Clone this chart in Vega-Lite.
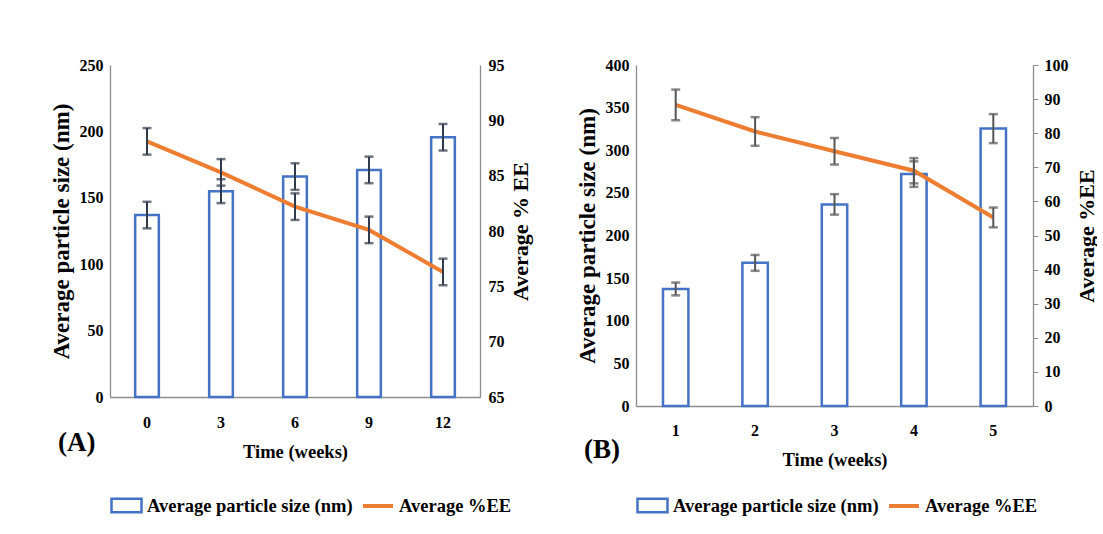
{
  "$schema": "https://vega.github.io/schema/vega-lite/v6.json",
  "padding": {"left": 50, "top": 57, "right": 0, "bottom": 0},
  "background": "white",
  "config": {
    "font": "Liberation Serif",
    "view": {"stroke": null},
    "axis": {"labelFont": "Liberation Serif", "labelFontWeight": "bold", "labelFontSize": 16, "labelColor": "#000", "titleFont": "Liberation Serif", "titleFontWeight": "bold", "titleColor": "#000", "grid": false, "domainColor": "#8c8c8c", "domainWidth": 1.3, "ticks": false},
    "legend": {"labelFont": "Liberation Serif", "labelFontWeight": "bold", "labelFontSize": 18.5, "labelColor": "#000", "labelLimit": 0, "orient": "bottom", "direction": "horizontal"}
  },
  "spacing": 45,
  "resolve": {"scale": {"color": "independent", "stroke": "independent"}, "legend": {"color": "independent", "stroke": "independent"}},
  "hconcat": [
    {
      "width": 370, "height": 332,
      "title": {"text": "(A)", "orient": "bottom", "anchor": "start", "frame": "group", "fontSize": 27, "fontWeight": "bold", "font": "Liberation Serif", "dx": -52, "dy": -92},
      "data": {"values": [
        {"week": 0, "size": 137, "sizeErr": 10, "ee": 88.1, "eeErr": 1.2},
        {"week": 3, "size": 155, "sizeErr": 9, "ee": 85.3, "eeErr": 1.2},
        {"week": 6, "size": 166, "sizeErr": 10, "ee": 82.2, "eeErr": 1.2},
        {"week": 9, "size": 171, "sizeErr": 10, "ee": 80.1, "eeErr": 1.2},
        {"week": 12, "size": 195.6, "sizeErr": 10, "ee": 76.3, "eeErr": 1.2}
      ]},
      "encoding": {"x": {"field": "week", "type": "ordinal", "scale": {"paddingInner": 0.68, "paddingOuter": 0.34}, "axis": {"title": "Time (weeks)", "titleFontSize": 18.5, "labelAngle": 0, "labelPadding": 17, "titlePadding": 12}}},
      "layer": [
        {"mark": {"type": "bar", "fill": "white", "strokeWidth": 2.5},
         "encoding": {
           "y": {"field": "size", "type": "quantitative", "scale": {"domain": [0, 250]}, "axis": {"title": "Average particle size (nm)", "titleFontSize": 23, "values": [0, 50, 100, 150, 200, 250], "labelPadding": 7, "titlePadding": 6}},
           "stroke": {"datum": "Average particle size (nm)", "scale": {"range": ["#4472C4"]}, "legend": {"title": null, "offset": 28, "symbolType": "M-1,-0.45H1V0.45H-1Z", "symbolSize": 900, "symbolStrokeWidth": 2.5, "symbolFillColor": "white"}}
         }},
        {"mark": {"type": "line", "strokeWidth": 4},
         "encoding": {
           "y": {"field": "ee", "type": "quantitative", "scale": {"domain": [65, 95]}, "axis": {"orient": "right", "title": "Average  % EE", "titleAngle": 270, "titleBaseline": "top", "titleFontSize": 22, "values": [65, 70, 75, 80, 85, 90, 95], "labelPadding": 8, "titlePadding": 6}},
           "color": {"datum": "Average %EE", "scale": {"range": ["#ED7D31"]}, "legend": {"title": null, "offset": 28, "symbolType": "stroke", "symbolSize": 900, "symbolStrokeWidth": 4}}
         }},
        {"mark": {"type": "errorbar", "ticks": {"size": 9, "thickness": 2.5, "color": "#2f3b4c"}, "rule": {"strokeWidth": 2, "color": "#2f3b4c"}},
         "encoding": {"y": {"field": "size", "type": "quantitative", "scale": {"domain": [0, 250]}, "axis": null}, "yError": {"field": "sizeErr"}}},
        {"mark": {"type": "errorbar", "ticks": {"size": 9, "thickness": 2.5, "color": "#2f3b4c"}, "rule": {"strokeWidth": 2, "color": "#2f3b4c"}},
         "encoding": {"y": {"field": "ee", "type": "quantitative", "scale": {"domain": [65, 95]}, "axis": null}, "yError": {"field": "eeErr"}}}
      ],
      "resolve": {"scale": {"y": "independent"}}
    },
    {
      "width": 397, "height": 341,
      "title": {"text": "(B)", "orient": "bottom", "anchor": "start", "frame": "group", "fontSize": 27, "fontWeight": "bold", "font": "Liberation Serif", "dx": -52, "dy": -85},
      "data": {"values": [
        {"week": 1, "size": 137.3, "sizeErr": 7.5, "ee": 88.3, "eeErr": 4.5},
        {"week": 2, "size": 167.9, "sizeErr": 9.3, "ee": 80.5, "eeErr": 4.2},
        {"week": 3, "size": 236.5, "sizeErr": 12, "ee": 74.7, "eeErr": 3.9},
        {"week": 4, "size": 272, "sizeErr": 15, "ee": 69, "eeErr": 3.7},
        {"week": 5, "size": 325.4, "sizeErr": 17, "ee": 55.3, "eeErr": 2.9}
      ]},
      "encoding": {"x": {"field": "week", "type": "ordinal", "scale": {"paddingInner": 0.68, "paddingOuter": 0.34}, "axis": {"title": "Time (weeks)", "titleFontSize": 18.5, "labelAngle": 0, "labelPadding": 16, "titlePadding": 12}}},
      "layer": [
        {"mark": {"type": "bar", "fill": "white", "strokeWidth": 2.5},
         "encoding": {
           "y": {"field": "size", "type": "quantitative", "scale": {"domain": [0, 400]}, "axis": {"title": "Average particle size (nm)", "titleFontSize": 23, "values": [0, 50, 100, 150, 200, 250, 300, 350, 400], "labelPadding": 7, "titlePadding": 6}},
           "stroke": {"datum": "Average particle size (nm)", "scale": {"range": ["#4472C4"]}, "legend": {"title": null, "offset": 20, "symbolType": "M-1,-0.45H1V0.45H-1Z", "symbolSize": 900, "symbolStrokeWidth": 2.5, "symbolFillColor": "white"}}
         }},
        {"mark": {"type": "line", "strokeWidth": 4},
         "encoding": {
           "y": {"field": "ee", "type": "quantitative", "scale": {"domain": [0, 100]}, "axis": {"orient": "right", "title": "Average %EE", "titleAngle": 270, "titleBaseline": "top", "titleFontSize": 22, "values": [0, 10, 20, 30, 40, 50, 60, 70, 80, 90, 100], "ticks": true, "tickSize": 5, "tickColor": "#8c8c8c", "labelPadding": 6, "titlePadding": 8}},
           "color": {"datum": "Average %EE", "scale": {"range": ["#ED7D31"]}, "legend": {"title": null, "offset": 20, "symbolType": "stroke", "symbolSize": 900, "symbolStrokeWidth": 4}}
         }},
        {"mark": {"type": "errorbar", "ticks": {"size": 9, "thickness": 2.5, "color": "#555555"}, "rule": {"strokeWidth": 2, "color": "#555555"}},
         "encoding": {"y": {"field": "size", "type": "quantitative", "scale": {"domain": [0, 400]}, "axis": null}, "yError": {"field": "sizeErr"}}},
        {"mark": {"type": "errorbar", "ticks": {"size": 9, "thickness": 2.5, "color": "#555555"}, "rule": {"strokeWidth": 2, "color": "#555555"}},
         "encoding": {"y": {"field": "ee", "type": "quantitative", "scale": {"domain": [0, 100]}, "axis": null}, "yError": {"field": "eeErr"}}}
      ],
      "resolve": {"scale": {"y": "independent"}}
    }
  ]
}
